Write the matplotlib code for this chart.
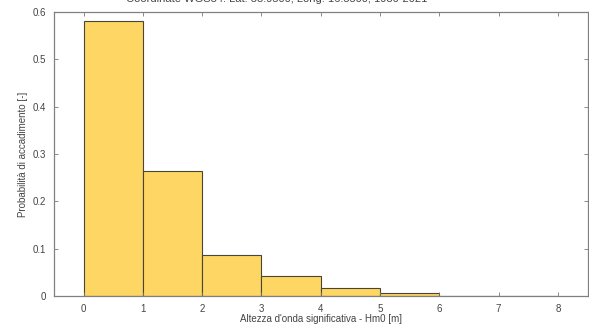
import matplotlib
matplotlib.use("Agg")
import matplotlib.pyplot as plt
import numpy as np

bin_edges = [0, 1, 2, 3, 4, 5, 6, 7, 8]
probabilities = [0.582, 0.265, 0.086, 0.042, 0.018, 0.006, 0.0008, 0.0003]
x_ticks = [0, 1, 2, 3, 4, 5, 6, 7, 8]
y_ticks = [0, 0.1, 0.2, 0.3, 0.4, 0.5, 0.6]
y_tick_labels = ["0", "0.1", "0.2", "0.3", "0.4", "0.5", "0.6"]
title_text = "Coordinate WGS84: Lat. 38.9500, Long. 16.5500; 1980-2021"
xlabel_text = "Altezza d'onda significativa - Hm0 [m]"
ylabel_text = "Probabilità di accadimento [-]"

plt.rcParams['font.family'] = ['Liberation Sans', 'DejaVu Sans']

fig = plt.figure(figsize=(5.89, 3.33), dpi=100)
ax = fig.add_axes([0.0917, 0.111, 0.9058, 0.853])

widths = np.diff(bin_edges)
ax.bar(bin_edges[:-1], probabilities, width=widths, align='edge',
       color='#FDD663', edgecolor='#4a4636', linewidth=0.8)

ax.set_xlim(-0.5, 8.5)
ax.set_ylim(0, 0.6)
ax.set_xticks(x_ticks)
ax.set_yticks(y_ticks)
ax.set_yticklabels(y_tick_labels)

tick_color = '#444444'
ax.tick_params(direction='in', length=3, width=0.6, colors='#777777',
               labelcolor=tick_color, labelsize=7, top=True, right=True, pad=6)
for s in ax.spines.values():
    s.set_color('#808080')
    s.set_linewidth(0.9)

ax.set_xlabel(xlabel_text, fontsize=7, color=tick_color, labelpad=0)
ax.set_ylabel(ylabel_text, fontsize=7, color=tick_color, labelpad=3)
fig.text(0.47, 1.003, title_text, ha='center', va='center', fontsize=8,
         color='#444444')

fig.savefig("out.png", dpi=100)
